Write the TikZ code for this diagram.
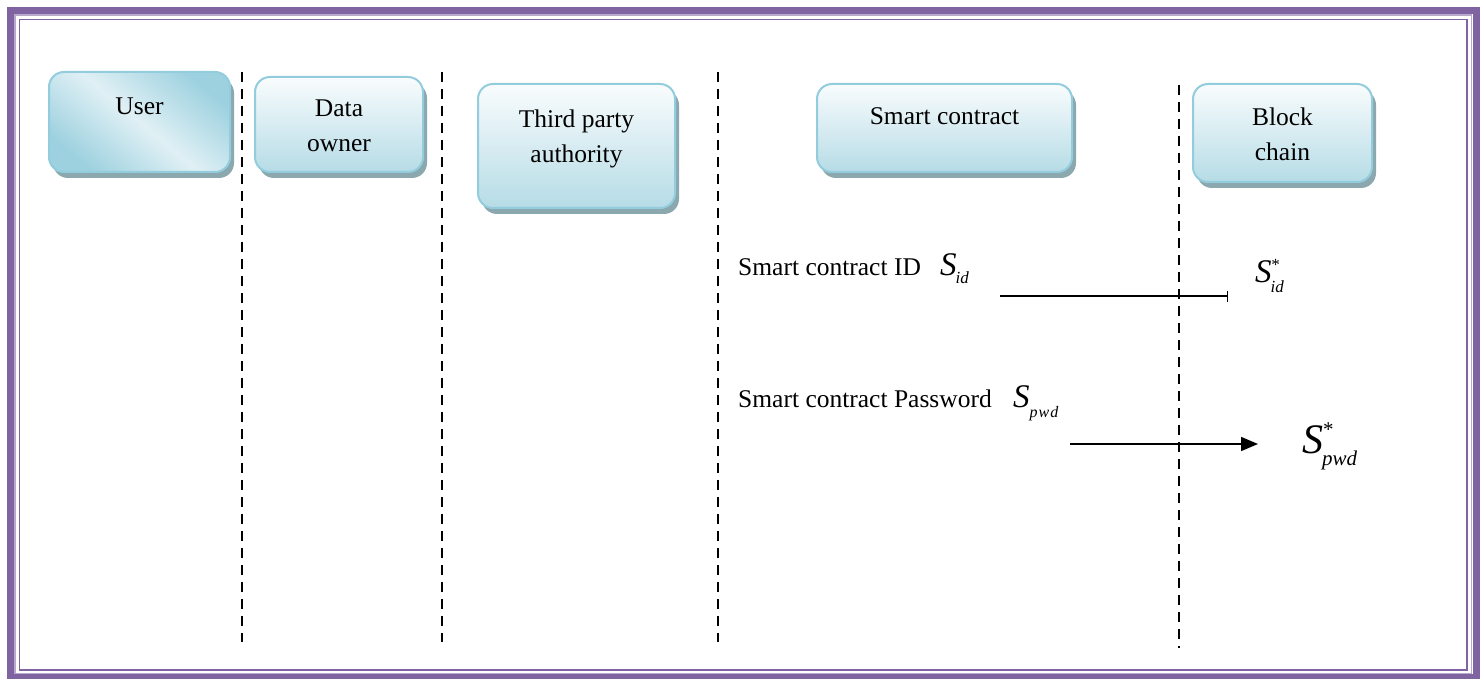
\documentclass[tikz,border=0pt]{standalone}
\usepackage{fontspec}
\setmainfont{Liberation Serif}
\usetikzlibrary{arrows.meta,shadows}
\definecolor{frame}{HTML}{8064A2}
\definecolor{framelight}{HTML}{B8A8CC}
\definecolor{boxline}{HTML}{93CDDD}
\definecolor{boxtop}{HTML}{F9FCFD}
\definecolor{boxbot}{HTML}{B6DCE6}
\definecolor{boxshadow}{HTML}{8BA8AF}
\definecolor{userdark}{HTML}{9DD1DF}
\definecolor{userlight}{HTML}{E0F0F5}
\tikzset{
  box/.style={draw=boxline, line width=2pt, rounded corners=15pt, rectangle,
    drop shadow={shadow xshift=4pt, shadow yshift=-6pt, fill=boxshadow, opacity=1},
    top color=boxtop, bottom color=boxbot, inner sep=0pt},
  userbox/.style={box, left color=userdark, right color=userdark, middle color=userlight, shading angle=-40},
  lbl/.style={font=\fontsize{25.5}{35}\selectfont, align=center, inner sep=0pt, anchor=north},
  txt/.style={font=\fontsize{25.5}{30}\selectfont, inner sep=0pt, anchor=base west},
  lifeline/.style={line width=2.5pt, dash pattern=on 10pt off 7pt},
  msg/.style={line width=1.5pt},
  mathlbl/.style={inner sep=0pt, anchor=base west}
}
\newcommand{\bigS}[1]{{\fontsize{#1}{#1}\selectfont\itshape S}}
\newcommand{\smallit}[2]{{\fontsize{#1}{#1}\selectfont\itshape #2}}
\begin{document}
\begin{tikzpicture}[x=1pt,y=-1pt]
\useasboundingbox (0,0) rectangle (1483,679);
% frame
\draw[frame, line width=7pt] (10.5,10.5) rectangle (1476,677.5);
\draw[framelight, line width=1.5pt] (15,15) rectangle (1471.5,673.5);
\draw[frame, line width=1.5pt] (19.5,19.5) rectangle (1467,670);
% boxes
\node[userbox, minimum width=181pt, minimum height=100pt] (user) at (139.5,122) {};
\node[box, minimum width=168pt, minimum height=95pt] (owner) at (339,124.5) {};
\node[box, minimum width=197pt, minimum height=124pt] (tpa) at (576.5,146) {};
\node[box, minimum width=255pt, minimum height=88pt] (sc) at (944.5,128) {};
\node[box, minimum width=179pt, minimum height=98pt] (bc) at (1282.5,133) {};
% labels
\node[lbl] (userT) at (139.5,98) {User};
\node[lbl] (ownerT) at (339,100) {Data\\owner};
\node[lbl] (tpaT) at (576.5,110) {Third party\\authority};
\node[lbl] (scT) at (944.5,107) {Smart contract};
\node[lbl] (bcT) at (1282.5,108) {Block\\chain};
% lifelines
\coordinate (l1t) at (242,72);  \coordinate (l1b) at (242,642);
\coordinate (l2t) at (442,72);  \coordinate (l2b) at (442,642);
\coordinate (l3t) at (718,72);  \coordinate (l3b) at (718,642);
\coordinate (l4t) at (1179,85); \coordinate (l4b) at (1179,648);
\draw[lifeline] (l1t) -- (l1b);
\draw[lifeline] (l2t) -- (l2b);
\draw[lifeline] (l3t) -- (l3b);
\draw[lifeline] (l4t) -- (l4b);
% messages
\node[txt] (idT) at (738,275) {Smart contract ID};
\node[mathlbl] (sid) at (940,275) {\bigS{33}\kern-1pt\raisebox{-8pt}{\smallit{17}{id}}};
\node[txt] (pwdT) at (738,407) {Smart contract Password};
\node[mathlbl] (spwd) at (1013,407) {\bigS{33}\kern0pt\raisebox{-10pt}{\smallit{16}{p\kern1pt w\kern1pt d}}};
\node[mathlbl] (sidstar) at (1255,282) {\bigS{33}\kern-1pt\rlap{\raisebox{12pt}{\smallit{17}{*}}}\raisebox{-10pt}{\smallit{17}{id}}};
\node[mathlbl] (spwdstar) at (1302,453) {\bigS{42}\kern-1pt\rlap{\raisebox{17pt}{\smallit{21}{*}}}\raisebox{-12pt}{\smallit{21}{pwd}}};
\coordinate (m1s) at (1000,296); \coordinate (m1e) at (1228,296);
\coordinate (m2s) at (1070,444); \coordinate (m2e) at (1258,444);
\draw[msg, -{Bar[width=11pt]}] (m1s) -- (m1e);
\draw[msg, -{Triangle[length=17pt,width=14pt]}] (m2s) -- (m2e);
\end{tikzpicture}
\end{document}
